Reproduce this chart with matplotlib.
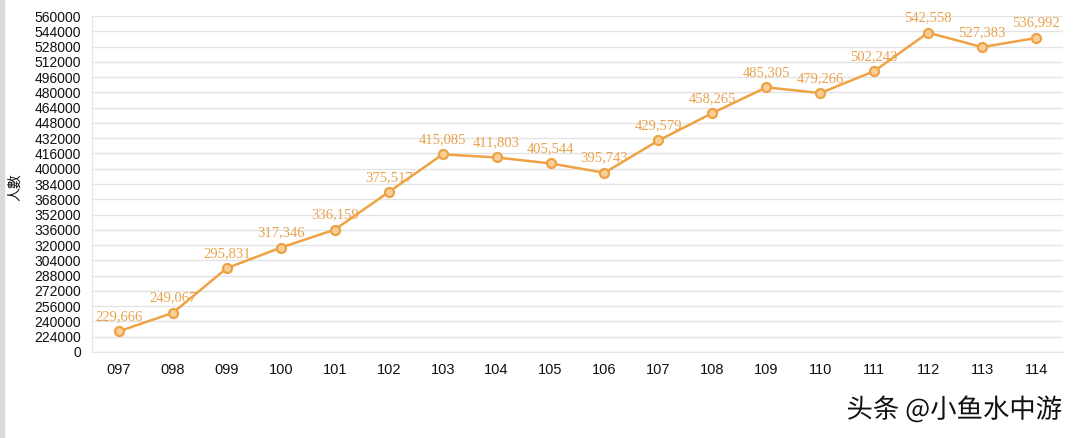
import matplotlib.pyplot as plt
import matplotlib.patheffects as pe
from matplotlib.patches import Rectangle

years = ["097", "098", "099", "100", "101", "102", "103", "104", "105",
         "106", "107", "108", "109", "110", "111", "112", "113", "114"]
people = [229666, 249067, 295831, 317346, 336159, 375517, 415085, 411803, 405544,
          395743, 429579, 458265, 485305, 479266, 502243, 542558, 527383, 536992]
y_ticks = list(range(208000, 560001, 16000))
y_tick_labels = ["0"] + [str(v) for v in y_ticks[1:]]

LINE = "#EFA244"
TEXT = "#E9A24E"

fig = plt.figure(figsize=(10.76, 4.38), dpi=100)
ax = fig.add_axes([92 / 1076, 1 - 352 / 438, (1063 - 92) / 1076, (352 - 16) / 438])

x = list(range(len(years)))
ax.plot(x, people, color=LINE, lw=1.8, marker="o", markersize=6.5,
        markerfacecolor="#F8CF98", markeredgecolor=LINE, markeredgewidth=1.6, zorder=3)
for xi, v in zip(x, people):
    ax.annotate(f"{v:,}", (xi, v), xytext=(0, 6), textcoords="offset points",
                ha="center", va="bottom", color=TEXT, fontsize=10.5,
                family="Liberation Serif")

ax.set_xlim(-0.5, len(years) - 0.5)
ax.set_ylim(208000, 560000)
ax.set_xticks(x)
ax.set_xticklabels(years)
ax.set_yticks(y_ticks)
ax.set_yticklabels(y_tick_labels)
ax.tick_params(length=0, labelsize=10, labelcolor="#111111", pad=8)
ax.tick_params(axis="x", labelsize=10.5, pad=8)
for lab in ax.get_xticklabels() + ax.get_yticklabels():
    lab.set_family("Liberation Sans")
ax.grid(axis="y", color="#E3E3E3", lw=1)
ax.set_axisbelow(True)
for side in ["top", "right"]:
    ax.spines[side].set_visible(False)
ax.spines["left"].set_color("#E3E3E3")
ax.spines["bottom"].set_color("#E3E3E3")

fig.text(15 / 1076, 1 - 187 / 438, "人數", rotation=90, ha="center", va="center",
         fontsize=10, family=["Noto Sans CJK TC", "DejaVu Sans"], color="#111111")

fig.text(1062 / 1076, 1 - 410 / 438, "头条 @小鱼水中游", ha="right", va="center",
         fontsize=19, family=["Noto Sans CJK SC", "DejaVu Sans"], color="#111111",
         path_effects=[pe.withStroke(linewidth=2, foreground="white")])

fig.patches.append(Rectangle((0, 0), 4 / 1076, 1, transform=fig.transFigure,
                             color="#DADADA", zorder=0))

fig.savefig("out.png", dpi=100)
